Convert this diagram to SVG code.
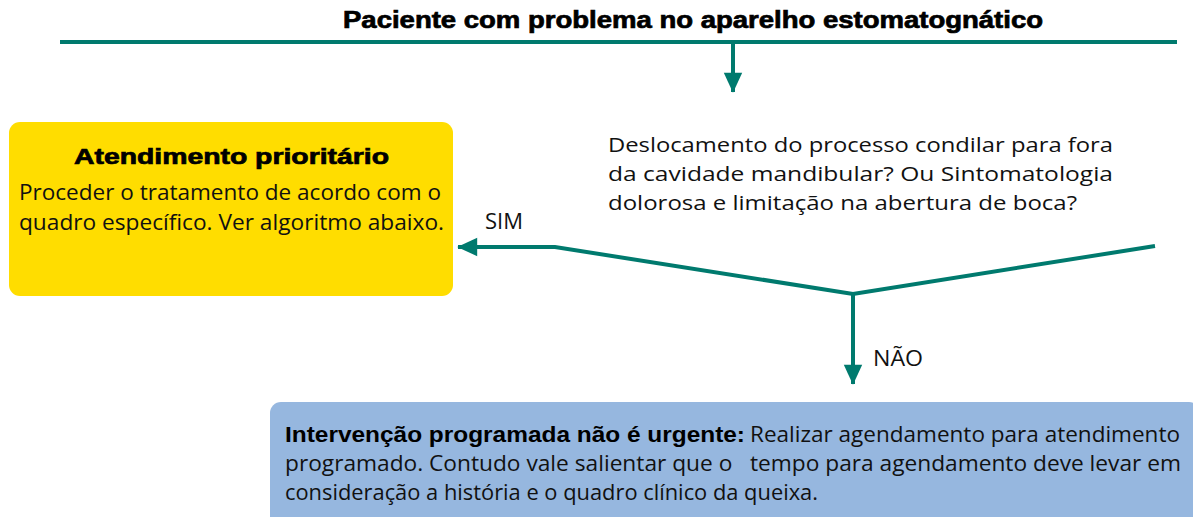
<svg xmlns="http://www.w3.org/2000/svg" width="1193" height="517" viewBox="0 0 1193 517">
<style>
.b{font-family:"Liberation Sans",Arial,sans-serif;font-weight:900;fill:#000}
.k{stroke:#000;stroke-width:0.7}
.t{font-family:"Open Sans","Liberation Sans",sans-serif;fill:#111;white-space:pre}
.c{stroke:#007A6E;stroke-width:4;fill:none}
</style>
<defs>
<marker id="ah" markerWidth="6" markerHeight="6" refX="4.8" refY="2.3" orient="auto" markerUnits="strokeWidth" overflow="visible">
<path d="M0,0 L5,2.3 L0,4.6 z" fill="#007A6E"/>
</marker>
</defs>
<rect width="1193" height="517" fill="#fff"/>
<g id="connectors">
<line class="c" x1="60" y1="42" x2="1177" y2="42"/>
<line class="c" x1="733" y1="42" x2="733" y2="92" marker-end="url(#ah)"/>
<polyline class="c" points="1155,246 853,294 555,247 458,247" marker-end="url(#ah)"/>
<line class="c" x1="853" y1="294" x2="853" y2="384" marker-end="url(#ah)"/>
<text class="t" x="485" y="229" font-size="22" textLength="38" lengthAdjust="spacingAndGlyphs">SIM</text>
<text class="t" x="873" y="366" font-size="22" textLength="50" lengthAdjust="spacingAndGlyphs">NÃO</text>
</g>
<g id="title">
<text class="b k" x="343" y="28" font-size="23" textLength="700" lengthAdjust="spacingAndGlyphs">Paciente com problema no aparelho estomatognático</text>
</g>
<g id="prioritario">
<rect x="9" y="122" width="444" height="174" rx="11" fill="#FFDD00"/>
<text class="b k" x="74" y="164" font-size="22" textLength="315" lengthAdjust="spacingAndGlyphs">Atendimento prioritário</text>
<text class="t" x="19" y="200" font-size="22" textLength="422" lengthAdjust="spacingAndGlyphs">Proceder o tratamento de acordo com o</text>
<text class="t" x="19" y="230" font-size="22" textLength="425" lengthAdjust="spacingAndGlyphs">quadro específico. Ver algoritmo abaixo.</text>
</g>
<g id="pergunta">
<text class="t" x="608" y="152" font-size="20" textLength="505" lengthAdjust="spacingAndGlyphs">Deslocamento do processo condilar para fora</text>
<text class="t" x="608" y="181" font-size="20" textLength="505" lengthAdjust="spacingAndGlyphs">da cavidade mandibular? Ou Sintomatologia</text>
<text class="t" x="608" y="210" font-size="20" textLength="469" lengthAdjust="spacingAndGlyphs">dolorosa e limitação na abertura de boca?</text>
</g>
<g id="programada">
<rect x="270" y="402" width="930" height="130" rx="11" fill="#96B7DF"/>
<text class="b" x="285" y="442" font-size="22" textLength="460" lengthAdjust="spacingAndGlyphs">Intervenção programada não é urgente:</text>
<text class="t" x="750" y="442" font-size="22" textLength="430" lengthAdjust="spacingAndGlyphs">Realizar agendamento para atendimento</text>
<text class="t" x="285" y="471" font-size="22" textLength="896" lengthAdjust="spacingAndGlyphs">programado. Contudo vale salientar que o   tempo para agendamento deve levar em</text>
<text class="t" x="285" y="500" font-size="22" textLength="533" lengthAdjust="spacingAndGlyphs">consideração a história e o quadro clínico da queixa.</text>
</g>
</svg>
